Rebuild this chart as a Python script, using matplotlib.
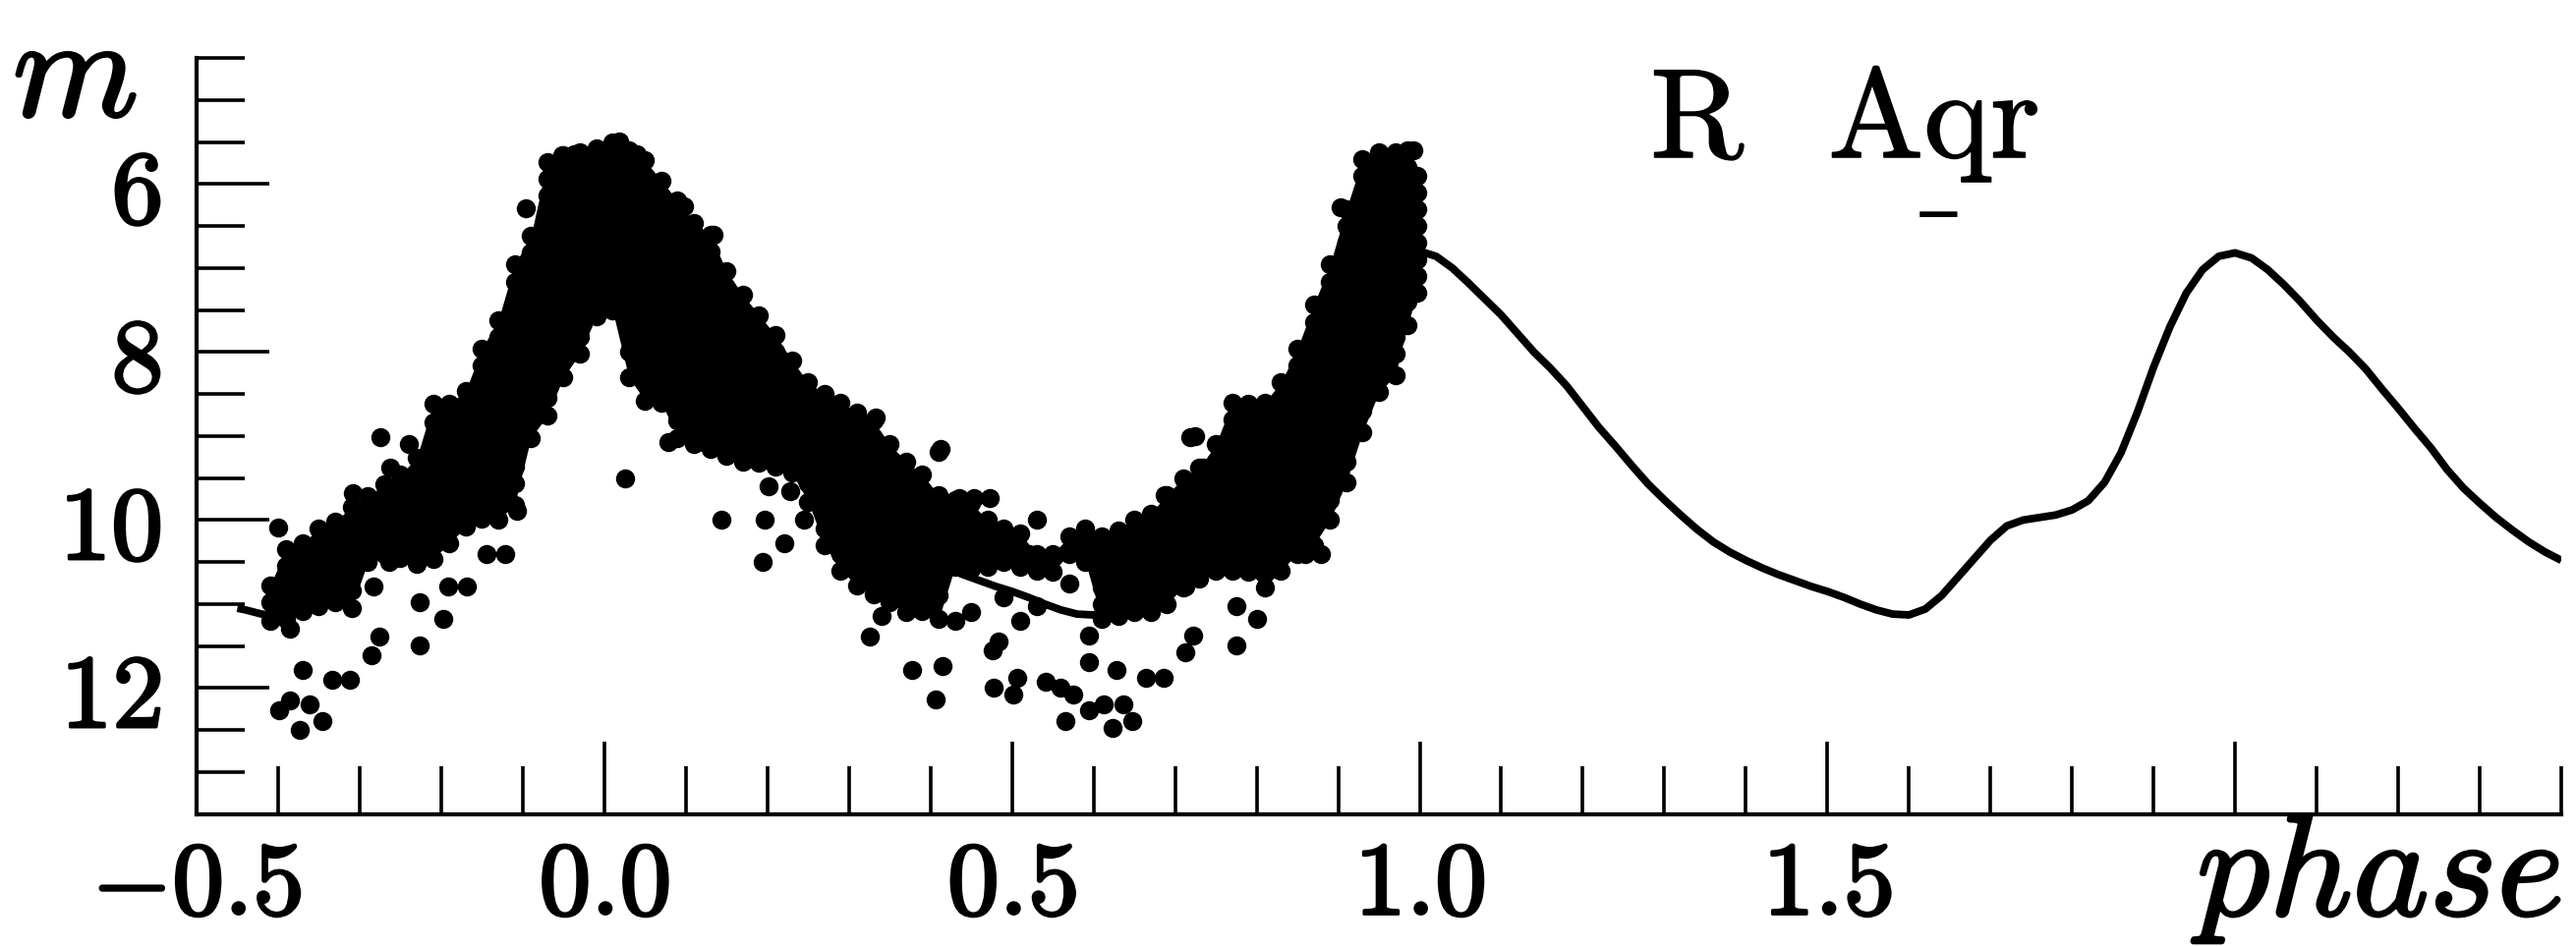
import matplotlib
matplotlib.use('Agg')
import matplotlib.pyplot as plt
import matplotlib.patheffects as pe
from matplotlib.ticker import MultipleLocator, FixedLocator, FixedFormatter

plt.rcParams['mathtext.fontset'] = 'cm'

# fitted light curve (phase, magnitude)
model_phase = [-0.45, -0.44, -0.42, -0.40, -0.38, -0.36, -0.34, -0.32, -0.30, -0.28,
               -0.26, -0.24, -0.22, -0.20, -0.18, -0.16, -0.14, -0.12, -0.10, -0.08,
               -0.06, -0.04, -0.02,
               0.00, 0.02, 0.04, 0.06, 0.08, 0.10, 0.12, 0.14, 0.16, 0.18,
               0.20, 0.22, 0.24, 0.26, 0.28, 0.30, 0.32, 0.34, 0.36, 0.38,
               0.40, 0.42, 0.44, 0.46, 0.48, 0.50, 0.52, 0.54, 0.56, 0.58,
               0.60, 0.62, 0.64, 0.66, 0.68, 0.70, 0.72, 0.74, 0.76, 0.78,
               0.80, 0.82, 0.84, 0.86, 0.88, 0.90, 0.92, 0.94, 0.96, 0.98,
               1.00, 1.02, 1.04, 1.06, 1.08, 1.10, 1.12, 1.14, 1.16, 1.18,
               1.20, 1.22, 1.24, 1.26, 1.28, 1.30, 1.32, 1.34, 1.36, 1.38,
               1.40, 1.42, 1.44, 1.46, 1.48, 1.50, 1.52, 1.54, 1.56, 1.58,
               1.60, 1.62, 1.64, 1.66, 1.68, 1.70, 1.72, 1.74, 1.76, 1.78,
               1.80, 1.82, 1.84, 1.86, 1.88, 1.90, 1.92, 1.94, 1.96, 1.98,
               2.00, 2.02, 2.04, 2.06, 2.08, 2.10, 2.12, 2.14, 2.16, 2.18,
               2.20, 2.22, 2.24, 2.26, 2.28, 2.30, 2.32, 2.34, 2.36, 2.38,
               2.40]
model_mag = [11.05, 11.07, 11.12, 11.14, 11.06, 10.90, 10.68, 10.46, 10.24, 10.07,
             10.00, 9.97, 9.94, 9.88, 9.77, 9.55, 9.20, 8.72, 8.18, 7.70,
             7.30, 7.02, 6.86,
             6.82, 6.86, 7.00, 7.18, 7.37, 7.56, 7.78, 8.00, 8.19, 8.40,
             8.65, 8.90, 9.12, 9.35, 9.57, 9.76, 9.94, 10.11, 10.26, 10.38,
             10.48, 10.57, 10.65, 10.72, 10.79, 10.85, 10.92, 11.00, 11.07, 11.12,
             11.13, 11.06, 10.90, 10.68, 10.46, 10.24, 10.07, 10.00, 9.97, 9.94,
             9.88, 9.77, 9.55, 9.20, 8.72, 8.18, 7.70, 7.30, 7.02, 6.86,
             6.80, 6.86, 7.00, 7.18, 7.37, 7.56, 7.78, 8.00, 8.19, 8.40,
             8.65, 8.90, 9.12, 9.35, 9.57, 9.76, 9.94, 10.11, 10.26, 10.38,
             10.48, 10.57, 10.65, 10.72, 10.79, 10.85, 10.92, 11.00, 11.07, 11.12,
             11.13, 11.06, 10.90, 10.68, 10.46, 10.24, 10.07, 10.00, 9.97, 9.94,
             9.88, 9.77, 9.55, 9.20, 8.72, 8.18, 7.70, 7.30, 7.02, 6.86,
             6.82, 6.88, 7.02, 7.20, 7.40, 7.62, 7.82, 8.00, 8.20, 8.44,
             8.67, 8.91, 9.14, 9.40, 9.62, 9.80, 9.97, 10.12, 10.26, 10.38,
             10.48]

# crowded observations, one column of magnitudes per phase step
band_phase = [-0.41, -0.39, -0.37, -0.35, -0.33, -0.31, -0.29, -0.27, -0.25, -0.23,
              -0.21, -0.19, -0.17, -0.15, -0.13, -0.11, -0.09, -0.07, -0.05, -0.03,
              -0.01, 0.01, 0.03, 0.05, 0.07, 0.09, 0.11, 0.13, 0.15, 0.17,
              0.19, 0.21, 0.23, 0.25, 0.27, 0.29, 0.31, 0.33, 0.35, 0.37,
              0.39, 0.41, 0.43, 0.45, 0.47, 0.49, 0.51, 0.53, 0.55, 0.57,
              0.59, 0.61, 0.63, 0.65, 0.67, 0.69, 0.71, 0.73, 0.75, 0.77,
              0.79, 0.81, 0.83, 0.85, 0.87, 0.89, 0.91, 0.93, 0.95, 0.97,
              0.985, 0.997]
band_mag = [
    [10.78, 10.98, 11.2],
    [10.35, 10.55, 10.75, 10.95, 11.18],
    [10.28, 10.48, 10.68, 10.88, 11.08],
    [10.1, 10.3, 10.5, 10.7, 10.9, 11.02],
    [10.02, 10.22, 10.42, 10.62, 10.82, 10.98],
    [9.84, 10.04, 10.24, 10.44, 10.64, 10.84, 11.05],
    [9.72, 9.92, 10.12, 10.32, 10.5],
    [9.58, 9.78, 9.98, 10.18, 10.4],
    [9.46, 9.66, 9.86, 10.06, 10.26, 10.45],
    [9.26, 9.46, 9.66, 9.86, 10.06, 10.26, 10.52],
    [8.62, 8.84, 9.04, 9.24, 9.44, 9.64, 9.84, 10.04, 10.24, 10.46],
    [8.62, 8.82, 9.02, 9.22, 9.42, 9.62, 9.82, 10.02, 10.28],
    [8.46, 8.66, 8.86, 9.06, 9.26, 9.46, 9.66, 9.86, 10.08],
    [7.96, 8.16, 8.36, 8.56, 8.76, 8.96, 9.16, 9.36, 9.56, 9.76, 9.98],
    [7.62, 7.82, 8.02, 8.22, 8.42, 8.62, 8.82, 9.02, 9.22, 9.42, 9.62, 9.82, 10.0],
    [6.96, 7.16, 7.36, 7.56, 7.76, 7.96, 8.16, 8.36, 8.56, 8.76, 8.96, 9.16, 9.36, 9.56, 9.82],
    [6.62, 6.82, 7.02, 7.22, 7.42, 7.62, 7.82, 8.02, 8.22, 8.42, 8.62, 8.82, 9.02],
    [5.74, 5.94, 6.14, 6.34, 6.54, 6.74, 6.94, 7.14, 7.34, 7.54, 7.74, 7.94, 8.14, 8.34, 8.54, 8.76],
    [5.66, 5.86, 6.06, 6.26, 6.46, 6.66, 6.86, 7.06, 7.26, 7.46, 7.66, 7.86, 8.06, 8.3],
    [5.62, 5.82, 6.02, 6.22, 6.42, 6.62, 6.82, 7.02, 7.22, 7.42, 7.62, 7.82, 8.02],
    [5.58, 5.78, 5.98, 6.18, 6.38, 6.58, 6.78, 6.98, 7.18, 7.38, 7.58],
    [5.5, 5.7, 5.9, 6.1, 6.3, 6.5, 6.7, 6.9, 7.1, 7.3, 7.5],
    [5.6, 5.8, 6.0, 6.2, 6.4, 6.6, 6.8, 7.0, 7.2, 7.4, 7.6, 7.8, 8.0, 8.3],
    [5.72, 5.92, 6.12, 6.32, 6.52, 6.72, 6.92, 7.12, 7.32, 7.52, 7.72, 7.92, 8.12, 8.32, 8.58],
    [5.96, 6.16, 6.36, 6.56, 6.76, 6.96, 7.16, 7.36, 7.56, 7.76, 7.96, 8.16, 8.36, 8.6],
    [6.2, 6.4, 6.6, 6.8, 7.0, 7.2, 7.4, 7.6, 7.8, 8.0, 8.2, 8.4, 8.6, 8.82, 9.02],
    [6.46, 6.66, 6.86, 7.06, 7.26, 7.46, 7.66, 7.86, 8.06, 8.26, 8.46, 8.66, 8.86, 9.1],
    [6.6, 6.8, 7.0, 7.2, 7.4, 7.6, 7.8, 8.0, 8.2, 8.4, 8.6, 8.8, 9.0, 9.15],
    [7.04, 7.24, 7.44, 7.64, 7.84, 8.04, 8.24, 8.44, 8.64, 8.84, 9.04, 9.24],
    [7.32, 7.52, 7.72, 7.92, 8.12, 8.32, 8.52, 8.72, 8.92, 9.12, 9.3],
    [7.56, 7.76, 7.96, 8.16, 8.36, 8.56, 8.76, 8.96, 9.16, 9.32],
    [7.8, 8.0, 8.2, 8.4, 8.6, 8.8, 9.0, 9.2, 9.36],
    [8.1, 8.3, 8.5, 8.7, 8.9, 9.1, 9.3, 9.44],
    [8.36, 8.56, 8.76, 8.96, 9.16, 9.36, 9.56, 9.78],
    [8.5, 8.7, 8.9, 9.1, 9.3, 9.5, 9.7, 9.9, 10.1, 10.3],
    [8.6, 8.8, 9.0, 9.2, 9.4, 9.6, 9.8, 10.0, 10.2, 10.4, 10.6],
    [8.72, 8.92, 9.12, 9.32, 9.52, 9.72, 9.92, 10.12, 10.32, 10.52, 10.78],
    [8.82, 9.02, 9.22, 9.42, 9.62, 9.82, 10.02, 10.22, 10.42, 10.62, 10.88],
    [9.1, 9.3, 9.5, 9.7, 9.9, 10.1, 10.3, 10.5, 10.7, 10.98],
    [9.3, 9.5, 9.7, 9.9, 10.1, 10.3, 10.5, 10.7, 10.9, 11.1],
    [9.46, 9.66, 9.86, 10.06, 10.26, 10.46, 10.66, 10.86, 11.08],
    [9.7, 9.9, 10.1, 10.3, 10.5, 10.7, 10.9, 11.18],
    [9.76, 9.96, 10.16, 10.36, 10.56],
    [9.8, 10.0, 10.2, 10.4, 10.58],
    [10.0, 10.2, 10.4, 10.56],
    [10.1, 10.3, 10.5],
    [10.16, 10.36, 10.56],
    [10.4, 10.6],
    [10.4, 10.62],
    [10.2, 10.4],
    [10.1, 10.3, 10.5],
    [10.2, 10.4, 10.6, 10.8, 11.0, 11.18],
    [10.12, 10.32, 10.52, 10.72, 10.92, 11.14],
    [10.0, 10.2, 10.4, 10.6, 10.8, 11.1],
    [9.92, 10.12, 10.32, 10.52, 10.72, 10.92, 11.1],
    [9.7, 9.9, 10.1, 10.3, 10.5, 10.7, 11.0],
    [9.5, 9.7, 9.9, 10.1, 10.3, 10.5, 10.8],
    [9.38, 9.58, 9.78, 9.98, 10.18, 10.38, 10.7],
    [9.1, 9.3, 9.5, 9.7, 9.9, 10.1, 10.3, 10.6],
    [8.6, 8.8, 9.0, 9.2, 9.4, 9.6, 9.8, 10.0, 10.2, 10.4, 10.6],
    [8.62, 8.82, 9.02, 9.22, 9.42, 9.62, 9.82, 10.02, 10.22, 10.42, 10.62],
    [8.6, 8.8, 9.0, 9.2, 9.4, 9.6, 9.8, 10.0, 10.2, 10.4, 10.6, 10.8],
    [8.36, 8.56, 8.76, 8.96, 9.16, 9.36, 9.56, 9.76, 9.96, 10.16, 10.36, 10.6],
    [7.96, 8.16, 8.36, 8.56, 8.76, 8.96, 9.16, 9.36, 9.56, 9.76, 9.96, 10.16, 10.4],
    [7.44, 7.64, 7.84, 8.04, 8.24, 8.44, 8.64, 8.84, 9.04, 9.24, 9.44, 9.64, 9.84, 10.04, 10.3],
    [6.96, 7.16, 7.36, 7.56, 7.76, 7.96, 8.16, 8.36, 8.56, 8.76, 8.96, 9.16, 9.36, 9.56, 9.76, 10.0],
    [6.3, 6.5, 6.7, 6.9, 7.1, 7.3, 7.5, 7.7, 7.9, 8.1, 8.3, 8.5, 8.7, 8.9, 9.1, 9.3, 9.55],
    [5.7, 5.9, 6.1, 6.3, 6.5, 6.7, 6.9, 7.1, 7.3, 7.5, 7.7, 7.9, 8.1, 8.3, 8.5, 8.7, 8.95],
    [5.62, 5.82, 6.02, 6.22, 6.42, 6.62, 6.82, 7.02, 7.22, 7.42, 7.62, 7.82, 8.02, 8.22, 8.48],
    [5.62, 5.82, 6.02, 6.22, 6.42, 6.62, 6.82, 7.02, 7.22, 7.42, 7.62, 7.82, 8.02, 8.28],
    [5.6, 5.8, 6.0, 6.2, 6.4, 6.6, 6.8, 7.0, 7.2, 7.4, 7.68],
    [5.9, 6.1, 6.3, 6.5, 6.7, 6.9, 7.1, 7.3],
]

# isolated observations away from the crowded band
obs_phase = [-0.400, -0.385, -0.370, -0.399, -0.385, -0.361, -0.346, -0.374, -0.334, -0.312,
             -0.286, -0.276, -0.226, -0.197, -0.226, -0.192, -0.168, -0.283, -0.264, -0.144,
             -0.122, -0.107, 0.025, 0.144, 0.197, 0.245, 0.221, 0.194, 0.202, 0.228,
             -0.274, -0.240, -0.262, -0.308, -0.096, -0.064, 0.018, -0.052, -0.037, 0.040,
             0.098, 0.134, 0.079, 0.122, 0.098, 0.146, 0.333, 0.413, 0.724, 0.758,
             0.326, 0.340, 0.377, 0.415, 0.406, 0.476, 0.483, 0.478, 0.507, 0.502,
             0.541, 0.560, 0.575, 0.565, 0.594, 0.613, 0.637, 0.647, 0.623, 0.594,
             0.594, 0.628, 0.664, 0.686, 0.712, 0.722, 0.775, 0.801, 0.775, 0.712,
             0.859, 0.879, 0.435, 0.454, 0.473, 0.531, 0.410, 0.357, 0.531, 0.521,
             0.903, 0.927, 0.992, 0.687, 0.734, 0.719, 0.430, 0.450, 0.490, 0.510,
             0.530, 0.570]
obs_mag = [10.09, 11.29, 11.78, 12.27, 12.15, 12.19, 12.39, 12.50, 11.90, 11.90,
           11.61, 11.39, 11.49, 11.18, 10.98, 10.79, 10.79, 10.79, 10.50, 10.40,
           10.40, 9.89, 9.50, 9.99, 9.99, 9.99, 10.28, 10.50, 9.60, 9.66,
           9.01, 9.09, 9.38, 9.68, 6.29, 6.29, 5.49, 5.66, 5.64, 5.64,
           6.27, 6.60, 9.07, 9.07, 8.84, 8.99, 8.78, 9.15, 9.00, 9.09,
           11.39, 11.14, 11.78, 11.74, 12.13, 11.55, 11.45, 12.00, 11.88, 12.08,
           11.92, 12.00, 12.08, 12.39, 12.27, 12.19, 12.19, 12.39, 12.48, 11.69,
           11.37, 11.78, 11.88, 11.88, 11.57, 11.37, 11.49, 11.18, 11.02, 10.79,
           10.40, 10.40, 9.74, 9.74, 9.74, 9.99, 9.19, 9.35, 10.57, 10.40,
           6.28, 6.23, 5.60, 9.70, 9.38, 9.01, 11.20, 11.10, 10.92, 11.20,
           11.02, 10.76]

x_ticks = [-0.5, 0.0, 0.5, 1.0, 1.5, 2.0]
x_tick_labels = ['-0.5', '0.0', '0.5', '1.0', '1.5', '']
y_ticks = [6, 8, 10, 12]
y_tick_labels = ['6', '8', '10', '12']
star_name = 'R  Aqr'

all_phase = [p for p, col in zip(band_phase, band_mag) for _ in col] + obs_phase
all_mag = [m for col in band_mag for m in col] + obs_mag

fig = plt.figure(figsize=(26.21, 9.63), dpi=100)
ax = fig.add_axes([0.0763, 0.1395, 0.918, 0.7992])

ax.plot(model_phase, model_mag, color='k', lw=5.6, solid_joinstyle='round',
        solid_capstyle='butt', zorder=2)
# the crowded band merges into one solid mass, then the single points on top
ax.fill_between(band_phase, [c[0] for c in band_mag], [c[-1] for c in band_mag],
                color='k', lw=0, zorder=3)
ax.plot(all_phase, all_mag, 'o', ms=14, mew=0, color='k', zorder=4)

ax.set_xlim(-0.5, 2.4)
ax.set_ylim(13.5, 4.5)

for side in ['top', 'right']:
    ax.spines[side].set_visible(False)
for side in ['left', 'bottom']:
    ax.spines[side].set_linewidth(3.0)

def bold_math(labels):
    return [r'$\mathbf{%s}$' % s if s else '' for s in labels]

ax.xaxis.set_major_locator(FixedLocator(x_ticks))
ax.xaxis.set_major_formatter(FixedFormatter(bold_math(x_tick_labels)))
ax.xaxis.set_minor_locator(MultipleLocator(0.1))
ax.yaxis.set_major_locator(FixedLocator(y_ticks))
ax.yaxis.set_major_formatter(FixedFormatter(bold_math(y_tick_labels)))
ax.yaxis.set_minor_locator(MultipleLocator(0.5))

ax.tick_params(which='both', direction='in', width=2.6, top=False, right=False)
ax.tick_params(which='major', length=53)
ax.tick_params(which='minor', length=35)
ax.tick_params(axis='x', which='major', pad=16, labelsize=76)
ax.tick_params(axis='y', which='major', pad=26, labelsize=76)
heavy = [pe.withStroke(linewidth=2.2, foreground='k')]
for lab in ax.get_xticklabels() + ax.get_yticklabels():
    lab.set_path_effects(heavy)

ax.text(1.283, 5.68, star_name, fontfamily='cmr10', fontsize=93, ha='left', va='baseline',
        path_effects=[pe.withStroke(linewidth=1.2, foreground='k')])
ax.text(1.614, 6.18, '_', fontfamily='DejaVu Sans', fontsize=53, ha='left', va='baseline')

fig.text(0.005, 0.8764, r'$m$', fontsize=105, ha='left', va='baseline', path_effects=heavy)
fig.text(0.9962, 0.032, r'$phase$', fontsize=106, ha='right', va='baseline', path_effects=heavy)

fig.savefig('out.png', dpi=100)
